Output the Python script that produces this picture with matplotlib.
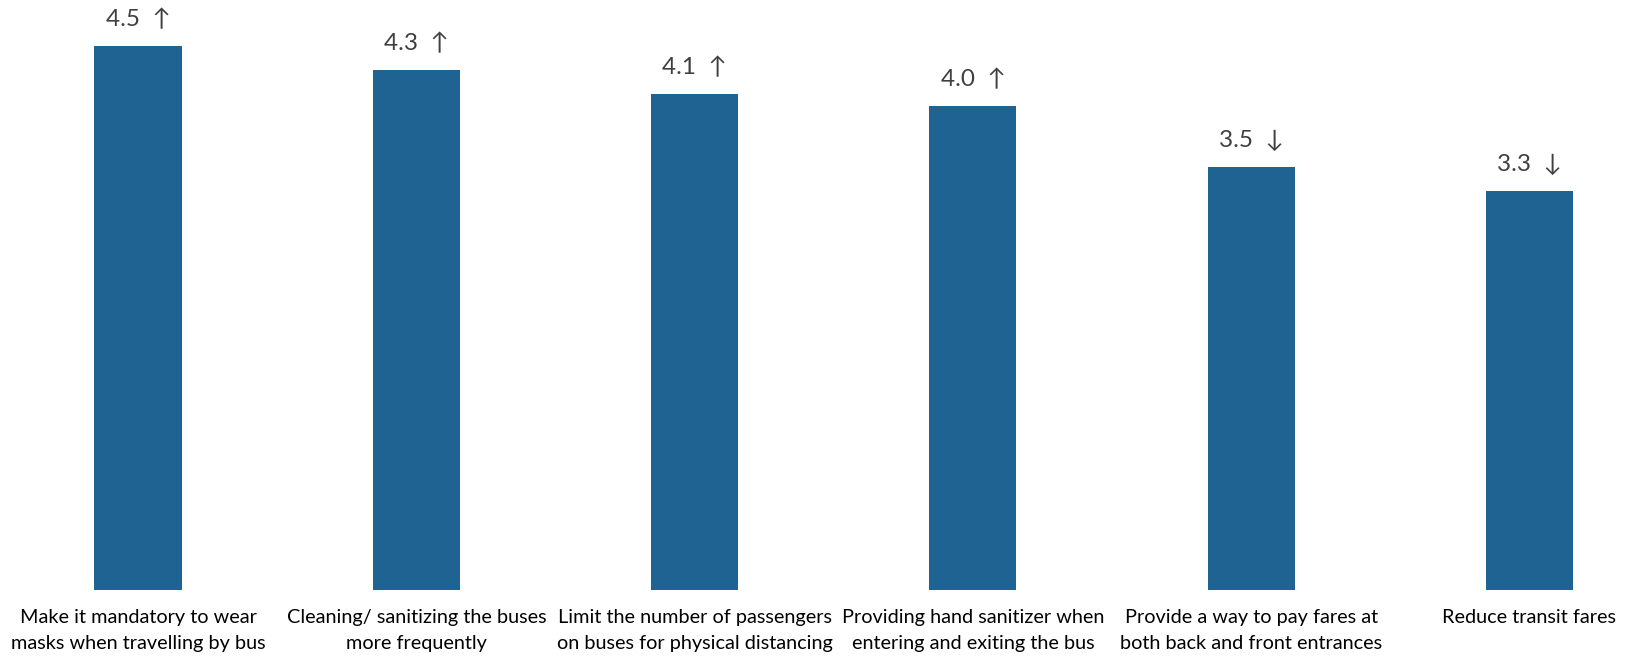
import matplotlib
matplotlib.use("Agg")
import matplotlib.pyplot as plt

categories = [
    "Make it mandatory to wear\nmasks when travelling by bus",
    "Cleaning/ sanitizing the buses\nmore frequently",
    "Limit the number of passengers\non buses for physical distancing",
    "Providing hand sanitizer when\nentering and exiting the bus",
    "Provide a way to pay fares at\nboth back and front entrances",
    "Reduce transit fares",
]
scores = [4.5, 4.3, 4.1, 4.0, 3.5, 3.3]
trend = ["\u2191", "\u2191", "\u2191", "\u2191", "\u2193", "\u2193"]

BAR_COLOR = "#1F6392"
TEXT_COLOR = "#404040"
FONT = ["Lato", "DejaVu Sans"]

fig = plt.figure(figsize=(16.28, 6.56), dpi=100)
ax = fig.add_axes([0, 0.1006, 1, 0.8994])

x = list(range(len(categories)))
ax.bar(x, scores, width=0.313, color=BAR_COLOR)

for xi, v, t in zip(x, scores, trend):
    ax.annotate(f"{v:.1f}  {t}", xy=(xi, v), xytext=(0, 19),
                textcoords="offset points", ha="center", va="center",
                fontsize=17.5, color=TEXT_COLOR, family=FONT)

ax.set_xlim(-0.496, 5.354)
ax.set_ylim(0, 4.88)
ax.set_xticks(x)
ax.set_xticklabels(categories, fontsize=14.3, color="black", family=FONT,
                   linespacing=1.6)
ax.tick_params(axis="x", length=0, pad=14)
ax.set_yticks([])
for s in ax.spines.values():
    s.set_visible(False)

fig.savefig("out.png", dpi=100)
